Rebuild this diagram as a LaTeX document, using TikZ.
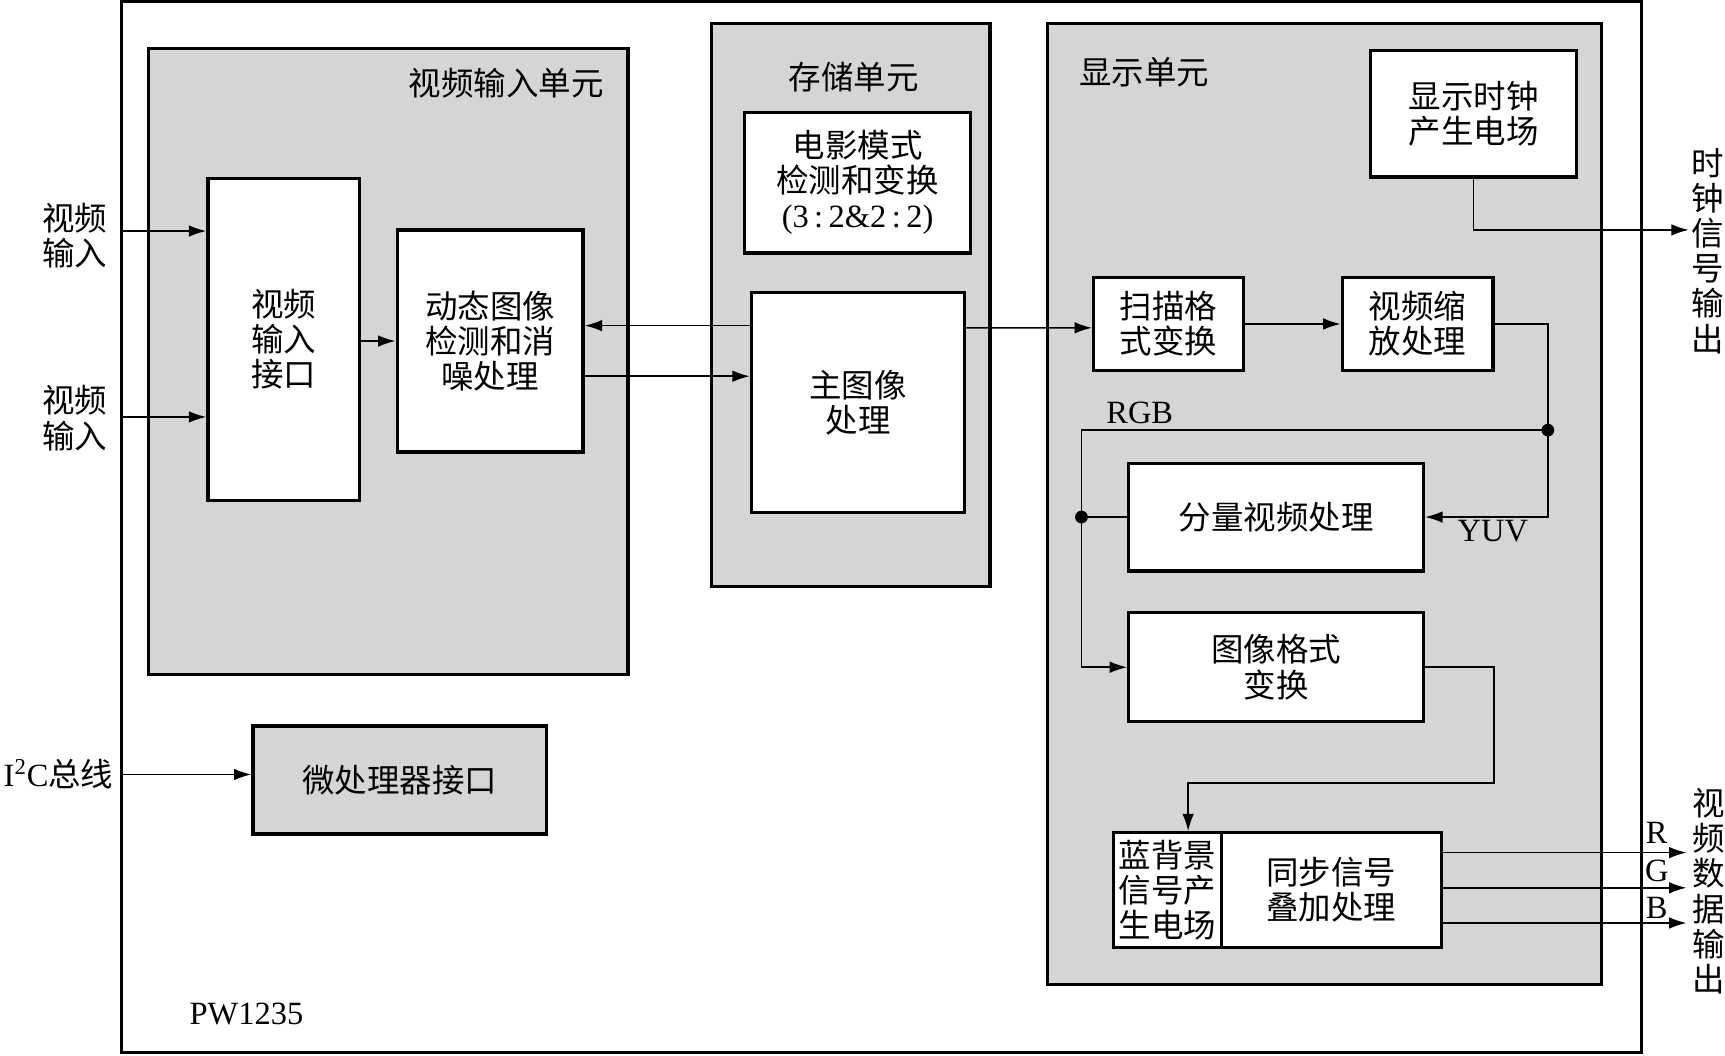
\documentclass[tikz,border=0pt]{standalone}
\usepackage{fontspec}
\setmainfont{Liberation Serif}
\newfontfamily\cjk{Noto Sans CJK SC}
\usetikzlibrary{arrows.meta,calc}
\definecolor{unitgray}{RGB}{213,213,213}
\tikzset{
  frame/.style={draw, line width=1.7pt, inner sep=0pt},
  unit/.style={frame, fill=unitgray},
  wbox/.style={frame, fill=white, align=center, font=\cjk\fontsize{16.8}{18.2}\selectfont},
  gbox/.style={frame, fill=unitgray, align=center, font=\cjk\fontsize{16.8}{18.2}\selectfont},
  txt/.style={align=center, inner sep=0pt, font=\cjk\fontsize{16.8}{18.2}\selectfont},
  lat/.style={align=center, inner sep=0pt, font=\fontsize{16.8}{18.2}\selectfont},
  conn/.style={line width=0.85pt},
  arr/.style={conn, -{Latex[length=9pt,width=6pt]}},
  dot/.style={fill=black}
}
\begin{document}
\begin{tikzpicture}[x=0.02cm,y=-0.02cm]
\useasboundingbox (0,0) rectangle (1568,959);
% outer chip frame
\node[frame, minimum width=27.64cm, minimum height=19.12cm] (outer) at (801,479) {};
% units
\node[unit, minimum width=8.72cm, minimum height=11.38cm] (vinu) at (353,328.5) {};
\node[unit, minimum width=5.06cm, minimum height=10.24cm] (stou) at (773.5,277) {};
\node[unit, minimum width=10.08cm, minimum height=17.48cm] (dispu) at (1204,458) {};
\node[txt] (vint) at (460,76) {视频输入单元};
\node[txt] (stot) at (776,70) {存储单元};
\node[txt] (dispt) at (1040,66) {显示单元};
% boxes
\node[wbox, minimum width=2.76cm, minimum height=5.86cm] (vif) at (258,308.5) {视频\\输入\\接口};
\node[wbox, minimum width=3.38cm, minimum height=4.04cm] (dyn) at (445.5,310) {动态图像\\检测和消\\噪处理};
\node[wbox, minimum width=4.10cm, minimum height=2.56cm] (film) at (779.5,166) {电影模式\\检测和变换\\{\rmfamily (3\,:\,2\&2\,:\,2)}};
\node[wbox, minimum width=3.88cm, minimum height=4.00cm] (main) at (780,366) {主图像\\处理};
\node[wbox, minimum width=3.74cm, minimum height=2.30cm] (clk) at (1339.5,103.5) {显示时钟\\产生电场};
\node[wbox, minimum width=2.72cm, minimum height=1.70cm] (scan) at (1062,294.5) {扫描格\\式变换};
\node[wbox, minimum width=2.74cm, minimum height=1.70cm] (scale) at (1288.5,294.5) {视频缩\\放处理};
\node[wbox, minimum width=5.36cm, minimum height=1.96cm] (comp) at (1160,470) {分量视频处理};
\node[wbox, minimum width=5.36cm, minimum height=1.98cm] (fmt) at (1160,606.5) {图像格式\\变换};
\node[wbox, minimum width=1.96cm, minimum height=2.08cm] (blue) at (1061,809) {蓝背景\\信号产\\生电场};
\node[wbox, minimum width=4.00cm, minimum height=2.08cm] (sync) at (1210,809) {同步信号\\叠加处理};
\node[gbox, minimum width=5.34cm, minimum height=1.96cm] (mpu) at (363.5,709) {微处理器接口};
% external labels
\node[txt] (in1l) at (68,214) {视频\\输入};
\node[txt] (in2l) at (68,380) {视频\\输入};
\node[txt, anchor=west] (i2cl) at (3,704) {{\rmfamily I\textsuperscript{2}C}总线};
\node[txt] (clkl) at (1552,228) {时\\钟\\信\\号\\输\\出};
\node[txt] (vdl) at (1553,810) {视\\频\\数\\据\\输\\出};
\node[lat] (rgbl) at (1036,375) {RGB};
\node[lat] (yuvl) at (1357,483) {YUV};
\node[lat] (rl) at (1506,757) {R};
\node[lat] (gl) at (1506,792) {G};
\node[lat] (bl) at (1506,825) {B};
\node[lat] (pwl) at (224,922) {PW1235};
% coordinates
\coordinate (in1) at (110,210);
\coordinate (in2) at (110,379);
\coordinate (i2c) at (110,704);
\coordinate (j1) at (1407,391);
\coordinate (j2) at (983,470);
\coordinate (k1) at (1358,712);
\coordinate (clkout) at (1535,209);
\coordinate (rout) at (1533,775);
\coordinate (gout) at (1533,807);
\coordinate (bout) at (1533,839);
% connectors
\draw[arr] (in1) -- (in1 -| vif.west);
\draw[arr] (in2) -- (in2 -| vif.west);
\draw[arr] (i2c) -- (i2c -| mpu.west);
\draw[arr] (dyn.west -| vif.east) -- (dyn.west);
\draw[arr] ($(main.west)+(0,-70)$) -- ($(dyn.east)+(0,-14)$);
\draw[arr] ($(dyn.east)+(0,32)$) -- ($(main.west)+(0,-24)$);
\draw[arr] ($(main.east)+(0,-68)$) -- ($(scan.west)+(0,3.5)$);
\draw[arr] (scan.east) -- (scale.west);
\draw[arr] (clk.south) |- (clkout);
\draw[arr] (scale.east) -| (j1) |- (comp.east);
\draw[arr] (j1) -| (j2) |- (fmt.west);
\draw[conn] (comp.west) -- (j2);
\fill[dot] (j1) circle[radius=3.3pt];
\fill[dot] (j2) circle[radius=3.3pt];
\draw[arr] (fmt.east) -| (k1) -| ($(blue.north)+(19,0)$);
\draw[arr] ($(sync.east)+(0,-34)$) -- (rout);
\draw[arr] ($(sync.east)+(0,-2)$) -- (gout);
\draw[arr] ($(sync.east)+(0,30)$) -- (bout);
\end{tikzpicture}
\end{document}
